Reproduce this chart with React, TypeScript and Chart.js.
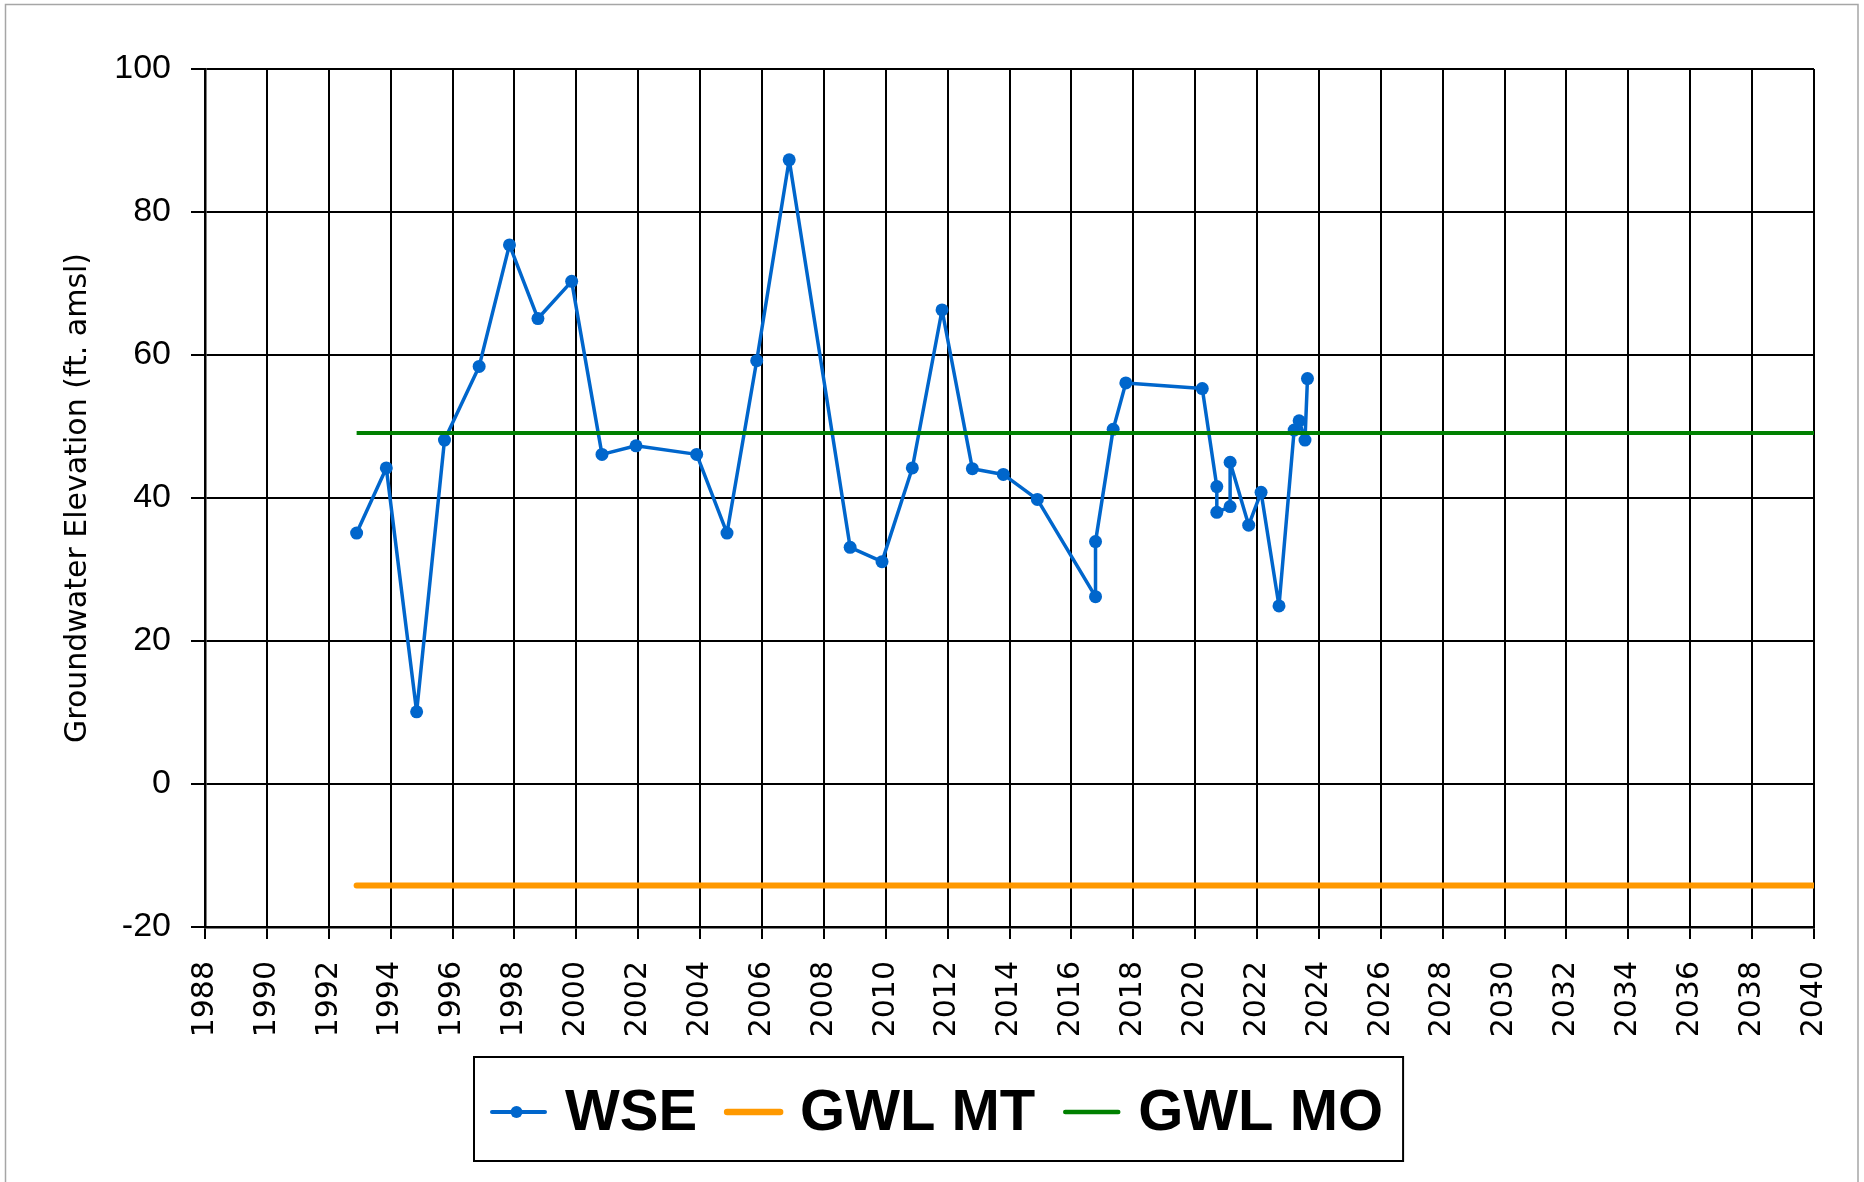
import React, { useEffect, useRef } from "react";
import { Chart, registerables } from "chart.js";

Chart.register(...registerables);

// ---- data ----
const wseYears = [
  1992.9, 1993.86, 1994.84, 1995.74, 1996.86, 1997.84, 1998.76, 1999.85, 2000.83, 2001.93,
  2003.89, 2004.87, 2005.83, 2006.88, 2008.85, 2009.88, 2010.86, 2011.82, 2012.8, 2013.8,
  2014.9, 2016.78, 2016.78, 2017.35, 2017.76, 2020.23, 2020.7, 2020.7, 2021.13, 2021.13,
  2021.73, 2022.13, 2022.71, 2023.2, 2023.36, 2023.55, 2023.63,
];
const wseValues = [
  35.1, 44.2, 10.1, 48.1, 58.4, 75.4, 65.1, 70.3, 46.1, 47.3,
  46.1, 35.1, 59.2, 87.3, 33.1, 31.1, 44.2, 66.3, 44.1, 43.3,
  39.8, 26.2, 33.9, 49.6, 56.1, 55.3, 41.6, 38.0, 38.8, 45.0,
  36.2, 40.8, 24.9, 49.5, 50.8, 48.1, 56.7,
];
const thresholdYears = [1992.9, 2040];
const gwlMtValues = [-14.2, -14.2];
const gwlMoValues = [49.1, 49.1];
const seriesLabels = ["WSE", "GWL MT", "GWL MO"];
const xMin = 1988;
const xMax = 2040;
const xStep = 2;
const yMin = -20;
const yMax = 100;
const yStep = 20;
const yTitle = "Groundwater Elevation (ft. amsl)";

const BLUE = "#0066CC";
const ORANGE = "#FF9900";
const GREEN = "#008000";

const frameAndLegend = {
  id: "frameAndLegend",
  beforeDraw(chart: any) {
    const ctx = chart.ctx;
    ctx.save();
    ctx.fillStyle = "#ffffff";
    ctx.fillRect(0, 0, chart.width, chart.height);
    ctx.strokeStyle = "#a6a6a6";
    ctx.lineWidth = 1.5;
    ctx.strokeRect(5.5, 4.5, 1852.5, chart.height + 10);
    ctx.restore();
  },
  afterDraw(chart: any) {
    const ctx = chart.ctx;
    ctx.save();
    ctx.font = 'bold 58px "Liberation Sans", Arial, sans-serif';
    const markerLen = 57;
    const gapAfter = 18;
    const gapBetween = 28;
    const padL = 16;
    const padR = 20;
    const items = chart.data.datasets.map((ds: any) => ({
      label: ds.label,
      color: ds.borderColor,
      lw: ds.borderWidth,
      dot: ds.pointRadius > 0,
      tw: ctx.measureText(ds.label).width,
    }));
    let total = padL + padR + gapBetween * (items.length - 1);
    items.forEach((it: any) => (total += markerLen + gapAfter + it.tw));
    const cx = chart.width / 2 + 6.5;
    const left = Math.round(cx - total / 2);
    const top = chart.chartArea.bottom + 130;
    const h = 104;
    ctx.strokeStyle = "#000";
    ctx.lineWidth = 2;
    ctx.strokeRect(left, top, total, h);
    const cy = top + 55;
    let x = left + padL;
    items.forEach((it: any) => {
      ctx.strokeStyle = it.color;
      ctx.lineWidth = it.lw + 0.5;
      ctx.lineCap = "round";
      ctx.beginPath();
      ctx.moveTo(x + 2, cy);
      ctx.lineTo(x + markerLen - 2, cy);
      ctx.stroke();
      if (it.dot) {
        ctx.fillStyle = it.color;
        ctx.beginPath();
        ctx.arc(x + markerLen / 2 - 2, cy, 6, 0, Math.PI * 2);
        ctx.fill();
      }
      x += markerLen + gapAfter;
      ctx.fillStyle = "#000";
      ctx.textBaseline = "middle";
      ctx.textAlign = "left";
      ctx.fillText(it.label, x, cy + 2);
      x += it.tw + gapBetween;
    });
    ctx.restore();
  },
};

export default function App() {
  const ref = useRef<HTMLCanvasElement | null>(null);
  useEffect(() => {
    document.body.style.margin = "0";
    const canvas = ref.current;
    if (!canvas) return;
    const chart = new Chart(canvas, {
      type: "line",
      data: {
        datasets: [
          {
            label: seriesLabels[0],
            data: wseYears.map((x, i) => ({ x, y: wseValues[i] })),
            borderColor: BLUE,
            backgroundColor: BLUE,
            borderWidth: 3.5,
            borderJoinStyle: "round",
            borderCapStyle: "round",
            pointRadius: 6.5,
            pointBorderWidth: 0,
            pointBackgroundColor: BLUE,
            tension: 0,
            order: 3,
          },
          {
            label: seriesLabels[1],
            data: thresholdYears.map((x, i) => ({ x, y: gwlMtValues[i] })),
            borderColor: ORANGE,
            backgroundColor: ORANGE,
            borderWidth: 6,
            borderCapStyle: "round",
            pointRadius: 0,
            order: 2,
          },
          {
            label: seriesLabels[2],
            data: thresholdYears.map((x, i) => ({ x, y: gwlMoValues[i] })),
            borderColor: GREEN,
            backgroundColor: GREEN,
            borderWidth: 4,
            pointRadius: 0,
            order: 1,
          },
        ],
      },
      options: {
        animation: false,
        responsive: false,
        devicePixelRatio: 1,
        layout: { padding: { top: 69, right: 50, left: 60, bottom: 0 } },
        plugins: { legend: { display: false }, tooltip: { enabled: false } },
        scales: {
          x: {
            type: "linear",
            min: xMin,
            max: xMax,
            afterFit: (s: any) => {
              s.height = 255;
              s.paddingLeft = 0;
              s.paddingRight = 0;
            },
            ticks: {
              stepSize: xStep,
              autoSkip: false,
              maxRotation: 90,
              minRotation: 90,
              padding: 22,
              color: "#000",
              font: { family: '"DejaVu Sans", sans-serif', size: 30 },
              callback: (v: any) => String(v),
            },
            grid: { color: "#000", lineWidth: 2, tickLength: 12, drawTicks: true },
            border: { color: "#000", width: 2.5 },
          },
          y: {
            type: "linear",
            min: yMin,
            max: yMax,
            afterFit: (s: any) => {
              s.width = 145;
            },
            ticks: {
              stepSize: yStep,
              padding: 20,
              color: "#000",
              font: { family: '"Liberation Sans", Arial, sans-serif', size: 34 },
              callback: (v: any) => String(v),
            },
            grid: { color: "#000", lineWidth: 2, tickLength: 14, drawTicks: true },
            border: { color: "#000", width: 2.5 },
            title: {
              display: true,
              text: yTitle,
              color: "#000",
              padding: { top: 0, bottom: 0 },
              font: { family: '"DejaVu Sans", sans-serif', size: 30 },
            },
          },
        },
      },
      plugins: [frameAndLegend],
    });
    return () => chart.destroy();
  }, []);
  return (
    <div style={{ width: 1864, height: 1182 }}>
      <canvas ref={ref} width={1864} height={1182} style={{ display: "block" }} />
    </div>
  );
}
